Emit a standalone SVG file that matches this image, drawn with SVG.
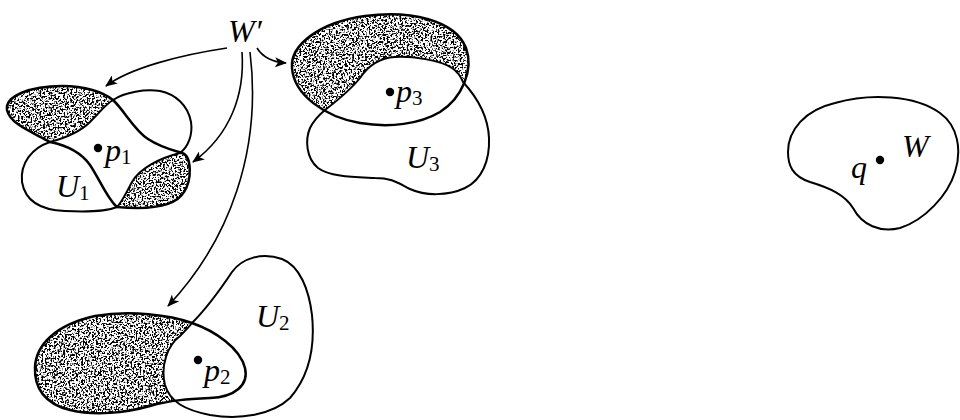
<svg xmlns="http://www.w3.org/2000/svg" width="960" height="420" viewBox="0 0 960 420">
<defs>
<filter id="stip" x="-5%" y="-5%" width="110%" height="110%">
<feTurbulence type="fractalNoise" baseFrequency="0.55" numOctaves="2" seed="4" result="n"/>
<feColorMatrix in="n" type="matrix" values="0 0 0 0 0  0 0 0 0 0  0 0 0 0 0  -10 0 0 0 5.15" result="m"/>
<feComposite in="m" in2="SourceGraphic" operator="in"/>
</filter>
<marker id="ah" viewBox="0 0 12 10" refX="11" refY="5" markerWidth="12" markerHeight="10" markerUnits="userSpaceOnUse" orient="auto">
<path d="M0,0 L12,5 L0,10 L3,5 Z" fill="#000"/>
</marker>
<style>
.shade{fill:#000;stroke:none;filter:url(#stip)}
.wp{fill:none;stroke:#000;stroke-width:2.5}
.u{fill:#fff;stroke:#000;stroke-width:2}
.uo{fill:none;stroke:#000;stroke-width:2}
.con{fill:none;stroke:#000;stroke-width:1.6;marker-end:url(#ah)}
.dot{fill:#000}
.lbl{font-family:"Liberation Serif","Times New Roman",serif;font-style:italic;font-size:32px;fill:#000}
.sub{font-style:normal;font-size:21px}
</style>
</defs>
<rect width="960" height="420" fill="#fff"/>

<g id="U1">
<path class="shade" d="M 50,142 C 32,132 10,124 7,110 C 5,96 30,86 62,86 C 85,86 103,92 113,100 C 124,110 134,130 148,139 C 160,147 172,150 182,153 C 192,156 192,180 184,192 C 176,206 150,210 117,207 C 108,200 100,180 90,165 C 80,151 65,145 50,142 Z"/>
<path class="u" d="M 113,100 C 125,92 145,89 160,91 C 175,94 188,105 191,122 C 193,135 188,147 180,153 C 160,158 140,168 132,182 C 126,193 122,202 117,207 C 105,212 85,212 65,211 C 40,210 25,200 22,182 C 20,163 32,148 50,142 C 65,138 80,132 90,122 C 100,112 106,104 113,100 Z"/>
<path class="wp" d="M 50,142 C 32,132 10,124 7,110 C 5,96 30,86 62,86 C 85,86 103,92 113,100 C 124,110 134,130 148,139 C 160,147 172,150 182,153 C 192,156 192,180 184,192 C 176,206 150,210 117,207 C 108,200 100,180 90,165 C 80,151 65,145 50,142 Z"/>
<circle class="dot" cx="98" cy="148" r="4.2"/>
<text class="lbl" x="105" y="161">p<tspan class="sub" dy="3">1</tspan></text>
<text class="lbl" x="56" y="197">U<tspan class="sub" dy="3">1</tspan></text>
</g>

<g id="U3">
<path class="shade" d="M 292,68 C 290,45 320,22 365,16 C 410,10 455,20 466,48 C 474,70 462,98 440,112 C 420,124 390,128 360,123 C 325,117 294,95 292,68 Z"/>
<path class="u" d="M 325,110 C 338,100 352,88 360,78 C 368,66 378,58 395,57 C 412,56 440,60 452,68 C 458,72 461,77 463,82 C 475,95 488,115 489,138 C 490,160 482,180 465,188 C 448,196 425,196 410,189 C 398,183 392,178 375,178 C 355,177 330,177 318,168 C 306,158 305,140 310,128 C 314,120 319,115 325,110 Z"/>
<path class="wp" d="M 292,68 C 290,45 320,22 365,16 C 410,10 455,20 466,48 C 474,70 462,98 440,112 C 420,124 390,128 360,123 C 325,117 294,95 292,68 Z"/>
<circle class="dot" cx="390" cy="92" r="4.2"/>
<text class="lbl" x="396" y="102">p<tspan class="sub" dy="3">3</tspan></text>
<text class="lbl" x="406" y="168">U<tspan class="sub" dy="3">3</tspan></text>
</g>

<g id="U2">
<path class="shade" d="M 35,367 C 36,345 55,325 95,316 C 130,310 170,315 192,323 C 215,331 240,348 245,368 C 249,385 235,397 210,398 C 190,399 170,400 150,406 C 125,413 95,416 70,410 C 45,404 34,388 35,367 Z"/>
<path class="u" d="M 192,323 C 205,310 220,290 232,272 C 242,258 262,252 282,259 C 300,266 309,290 312,315 C 315,345 310,375 290,398 C 272,415 240,420 210,415 C 185,410 170,402 165,385 C 160,365 168,345 180,336 C 185,331 189,327 192,323 Z"/>
<path class="wp" d="M 35,367 C 36,345 55,325 95,316 C 130,310 170,315 192,323 C 215,331 240,348 245,368 C 249,385 235,397 210,398 C 190,399 170,400 150,406 C 125,413 95,416 70,410 C 45,404 34,388 35,367 Z"/>
<circle class="dot" cx="198" cy="360" r="4.2"/>
<text class="lbl" x="204" y="381">p<tspan class="sub" dy="3">2</tspan></text>
<text class="lbl" x="256" y="327">U<tspan class="sub" dy="3">2</tspan></text>
</g>

<g id="W">
<path class="uo" d="M 788,152 C 788,130 805,110 835,103 C 870,93 915,95 940,113 C 958,126 962,150 955,172 C 948,195 925,220 900,228 C 880,233 862,225 853,208 C 845,195 830,188 810,182 C 792,176 788,165 788,152 Z"/>
<circle class="dot" cx="880" cy="160" r="4.2"/>
<text class="lbl" x="851" y="178">q</text>
<text class="lbl" x="902" y="157">W</text>
</g>

<g id="Wprime">
<text class="lbl" x="228" y="42">W′</text>
</g>

<g id="connectors">
<path class="con" d="M 227,48 C 180,55 130,68 106,86"/>
<path class="con" d="M 242,52 C 245,95 230,135 193,162"/>
<path class="con" d="M 250,52 C 262,150 230,240 168,306"/>
<path class="con" d="M 257,48 C 262,56 270,62 286,63"/>
</g>
</svg>
